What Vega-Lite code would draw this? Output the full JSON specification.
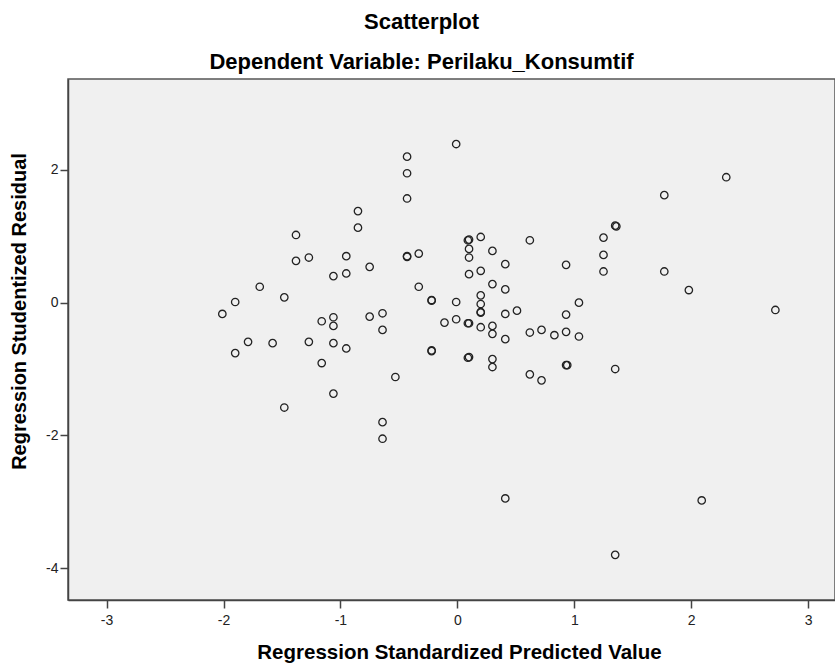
{
  "$schema": "https://vega.github.io/schema/vega-lite/v6.json",
  "width": 767,
  "height": 521,
  "autosize": {"type": "none"},
  "padding": {"left": 68, "top": 79, "right": 0, "bottom": 64},
  "background": "white",
  "title": {
    "text": "Scatterplot",
    "subtitle": "Dependent Variable: Perilaku_Konsumtif",
    "font": "Liberation Sans",
    "fontSize": 22,
    "fontWeight": "bold",
    "color": "#000000",
    "subtitleFont": "Liberation Sans",
    "subtitleFontSize": 22,
    "subtitleFontWeight": "bold",
    "subtitleColor": "#000000",
    "subtitlePadding": 18,
    "anchor": "middle",
    "dx": -30,
    "offset": 5
  },
  "config": {
    "view": {"fill": "#f0f0f0", "stroke": "#555555", "strokeWidth": 1.5}
  },
  "data": {
    "values": [
      {"pred": -0.43, "resid": 2.20}, {"pred": -0.43, "resid": 1.95}, {"pred": -0.43, "resid": 1.57},
      {"pred": -0.85, "resid": 1.38}, {"pred": -0.85, "resid": 1.13}, {"pred": -1.38, "resid": 1.02},
      {"pred": -1.38, "resid": 0.63}, {"pred": -1.27, "resid": 0.68}, {"pred": -0.95, "resid": 0.70},
      {"pred": -0.43, "resid": 0.69}, {"pred": -0.43, "resid": 0.70}, {"pred": -0.33, "resid": 0.74},
      {"pred": -0.75, "resid": 0.54}, {"pred": -1.06, "resid": 0.40}, {"pred": -0.95, "resid": 0.44},
      {"pred": -1.69, "resid": 0.24}, {"pred": -0.33, "resid": 0.24}, {"pred": -1.48, "resid": 0.08},
      {"pred": -1.90, "resid": 0.01}, {"pred": -2.01, "resid": -0.17}, {"pred": -0.22, "resid": 0.03},
      {"pred": -0.22, "resid": 0.04}, {"pred": -1.16, "resid": -0.28}, {"pred": -1.06, "resid": -0.22},
      {"pred": -1.06, "resid": -0.35}, {"pred": -0.75, "resid": -0.21}, {"pred": -0.64, "resid": -0.16},
      {"pred": -0.64, "resid": -0.41}, {"pred": -1.79, "resid": -0.59}, {"pred": -1.90, "resid": -0.76},
      {"pred": -1.58, "resid": -0.61}, {"pred": -1.27, "resid": -0.59}, {"pred": -1.16, "resid": -0.91},
      {"pred": -1.06, "resid": -0.61}, {"pred": -0.95, "resid": -0.69}, {"pred": -0.53, "resid": -1.12},
      {"pred": -0.22, "resid": -0.72}, {"pred": -0.22, "resid": -0.73}, {"pred": -1.06, "resid": -1.37},
      {"pred": -1.48, "resid": -1.58}, {"pred": -0.64, "resid": -1.80}, {"pred": -0.64, "resid": -2.05},
      {"pred": -0.01, "resid": 2.39}, {"pred": 2.30, "resid": 1.89}, {"pred": 1.77, "resid": 1.62},
      {"pred": 1.35, "resid": 1.16}, {"pred": 1.36, "resid": 1.15}, {"pred": 1.25, "resid": 0.98},
      {"pred": 0.62, "resid": 0.94}, {"pred": 0.10, "resid": 0.95}, {"pred": 0.09, "resid": 0.94},
      {"pred": 0.20, "resid": 0.99}, {"pred": 0.10, "resid": 0.81}, {"pred": 0.10, "resid": 0.68},
      {"pred": 0.30, "resid": 0.78}, {"pred": 0.41, "resid": 0.58}, {"pred": 0.93, "resid": 0.57},
      {"pred": 1.25, "resid": 0.72}, {"pred": 1.25, "resid": 0.47}, {"pred": 1.77, "resid": 0.47},
      {"pred": 0.10, "resid": 0.43}, {"pred": 0.20, "resid": 0.48}, {"pred": 0.30, "resid": 0.28},
      {"pred": 0.41, "resid": 0.20}, {"pred": 1.98, "resid": 0.19}, {"pred": 2.72, "resid": -0.11},
      {"pred": -0.01, "resid": 0.01}, {"pred": 0.20, "resid": 0.11}, {"pred": 0.20, "resid": -0.02},
      {"pred": 0.20, "resid": -0.14}, {"pred": 0.20, "resid": -0.15}, {"pred": 1.04, "resid": 0.00},
      {"pred": 0.93, "resid": -0.18}, {"pred": 0.41, "resid": -0.17}, {"pred": 0.51, "resid": -0.12},
      {"pred": -0.11, "resid": -0.30}, {"pred": -0.01, "resid": -0.25}, {"pred": 0.10, "resid": -0.31},
      {"pred": 0.09, "resid": -0.31}, {"pred": 0.20, "resid": -0.37}, {"pred": 0.30, "resid": -0.35},
      {"pred": 0.30, "resid": -0.47}, {"pred": 0.41, "resid": -0.55}, {"pred": 0.62, "resid": -0.45},
      {"pred": 0.72, "resid": -0.41}, {"pred": 0.83, "resid": -0.49}, {"pred": 0.93, "resid": -0.44},
      {"pred": 1.04, "resid": -0.51}, {"pred": 0.10, "resid": -0.82}, {"pred": 0.09, "resid": -0.83},
      {"pred": 0.30, "resid": -0.85}, {"pred": 0.30, "resid": -0.97}, {"pred": 0.62, "resid": -1.08},
      {"pred": 0.72, "resid": -1.17}, {"pred": 0.93, "resid": -0.94}, {"pred": 0.94, "resid": -0.94},
      {"pred": 1.35, "resid": -1.00}, {"pred": 0.41, "resid": -2.95}, {"pred": 2.09, "resid": -2.98},
      {"pred": 1.35, "resid": -3.80}
    ]
  },
  "mark": {
    "type": "point",
    "shape": "circle",
    "filled": false,
    "stroke": "#222222",
    "strokeWidth": 1.3,
    "size": 55,
    "opacity": 1
  },
  "encoding": {
    "x": {
      "field": "pred",
      "type": "quantitative",
      "scale": {"domain": [-3.33, 3.23], "nice": false, "zero": false},
      "axis": {
        "values": [-3, -2, -1, 0, 1, 2, 3],
        "labelExpr": "'' + datum.value",
        "grid": false,
        "domainColor": "#444444",
        "domainWidth": 1.5,
        "tickColor": "#444444",
        "tickWidth": 1.5,
        "tickSize": 8,
        "labelFont": "Liberation Sans",
        "labelFontSize": 14,
        "labelColor": "#222222",
        "labelPadding": 5,
        "title": "Regression Standardized Predicted Value",
        "titleFont": "Liberation Sans",
        "titleFontSize": 20.5,
        "titleFontWeight": "bold",
        "titleColor": "#000000",
        "titleX": 391,
        "titleY": 52,
        "titleBaseline": "middle"
      }
    },
    "y": {
      "field": "resid",
      "type": "quantitative",
      "scale": {"domain": [-4.48, 3.37], "nice": false, "zero": false},
      "axis": {
        "values": [-4, -2, 0, 2],
        "labelExpr": "'' + datum.value",
        "grid": false,
        "domainColor": "#444444",
        "domainWidth": 1.5,
        "tickColor": "#444444",
        "tickWidth": 1.5,
        "tickSize": 8,
        "labelFont": "Liberation Sans",
        "labelFontSize": 14,
        "labelColor": "#222222",
        "labelPadding": 2,
        "title": "Regression Studentized Residual",
        "titleFont": "Liberation Sans",
        "titleFontSize": 20,
        "titleFontWeight": "bold",
        "titleColor": "#000000",
        "titleX": -49,
        "titleY": 232,
        "titleAngle": -90,
        "titleAlign": "center",
        "titleBaseline": "middle"
      }
    }
  }
}
